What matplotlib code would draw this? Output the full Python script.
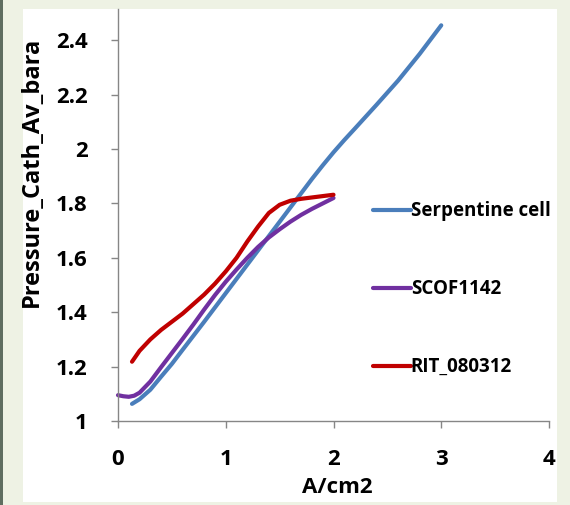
import numpy as np
import matplotlib.pyplot as plt
from matplotlib.patches import Rectangle

# values
serp_x = [0.13, 0.2, 0.3, 0.4, 0.5, 0.6, 0.8, 1.0, 1.2, 1.4, 1.6, 1.8, 1.9, 2.0, 2.1, 2.2, 2.4, 2.6, 2.8, 3.0]
serp_y = [1.063, 1.08, 1.115, 1.163, 1.21, 1.262, 1.365, 1.47, 1.575, 1.68, 1.785, 1.89, 1.94, 1.988, 2.033, 2.076, 2.163, 2.252, 2.35, 2.455]

scof_x = [0.0, 0.05, 0.1, 0.15, 0.2, 0.3, 0.4, 0.5, 0.6, 0.7, 0.8, 0.9, 1.0, 1.1, 1.2, 1.3, 1.4, 1.5, 1.6, 1.7, 1.8, 1.9, 2.0]
scof_y = [1.095, 1.091, 1.089, 1.093, 1.104, 1.145, 1.198, 1.25, 1.302, 1.355, 1.41, 1.463, 1.512, 1.557, 1.6, 1.64, 1.675, 1.705, 1.733, 1.758, 1.78, 1.8, 1.82]

rit_x = [0.13, 0.2, 0.3, 0.4, 0.5, 0.6, 0.7, 0.8, 0.9, 1.0, 1.1, 1.2, 1.3, 1.4, 1.5, 1.6, 1.7, 1.8, 1.9, 2.0]
rit_y = [1.218, 1.258, 1.3, 1.335, 1.365, 1.395, 1.43, 1.465, 1.505, 1.55, 1.6, 1.66, 1.715, 1.765, 1.795, 1.81, 1.817, 1.822, 1.827, 1.832]

labels = ['Serpentine cell', 'SCOF1142', 'RIT_080312']
colors = ['#4a7ebb', '#7030a0', '#c00000']

plt.rcParams['font.family'] = ['Open Sans', 'DejaVu Sans']
plt.rcParams['font.weight'] = 'bold'

fig = plt.figure(figsize=(5.7, 5.05), dpi=100, facecolor='#eef2e4')
fig.patches.append(Rectangle((23/570, 3/505), 534/570, 493/505, transform=fig.transFigure,
                             facecolor='white', edgecolor='none', zorder=-2))
fig.patches.append(Rectangle((0, 0), 3/570, 1, transform=fig.transFigure,
                             facecolor='#5f6e60', edgecolor='none', zorder=-2))

ax = fig.add_axes([118/570, 84/505, 431/570, 412/505])
ax.set_zorder(2)
ax.set_facecolor('none')

for xs, ys, lab, c in zip([serp_x, scof_x, rit_x], [serp_y, scof_y, rit_y], labels, colors):
    ax.plot(xs, ys, color=c, lw=3, label=lab, solid_capstyle='round', clip_on=False)

ax.set_xlim(0, 4)
ax.set_ylim(1, 2.515)
ax.set_xticks([0, 1, 2, 3, 4])
ax.set_xticklabels(['0', '1', '2', '3', '4'])
ax.set_yticks([1, 1.2, 1.4, 1.6, 1.8, 2, 2.2, 2.4])
ax.set_yticklabels(['1', '1.2', '1.4', '1.6', '1.8', '2', '2.2', '2.4'])

for s in ['top', 'right']:
    ax.spines[s].set_visible(False)
for s in ['left', 'bottom']:
    ax.spines[s].set_color('#868686')
    ax.spines[s].set_linewidth(1)
ax.tick_params(axis='both', direction='out', length=5, width=1, color='#868686',
               labelsize=16, pad=15)
ax.tick_params(axis='y', pad=17)

ax.set_xlabel('A/cm2', fontsize=16, fontweight='bold')
ax.xaxis.set_label_coords(0.51, -0.136)
ax.set_ylabel('Pressure_Cath_Av_bara', fontsize=17, fontweight='bold')
ax.yaxis.set_label_coords(-0.172, 0.604)

leg = ax.legend(loc='upper left', bbox_to_anchor=(0.575, 0.552), frameon=False,
                fontsize=13.5, handlelength=2.0, handletextpad=0.0, labelspacing=3.1,
                borderaxespad=0)

fig.savefig('out.png', dpi=100, facecolor=fig.get_facecolor())
